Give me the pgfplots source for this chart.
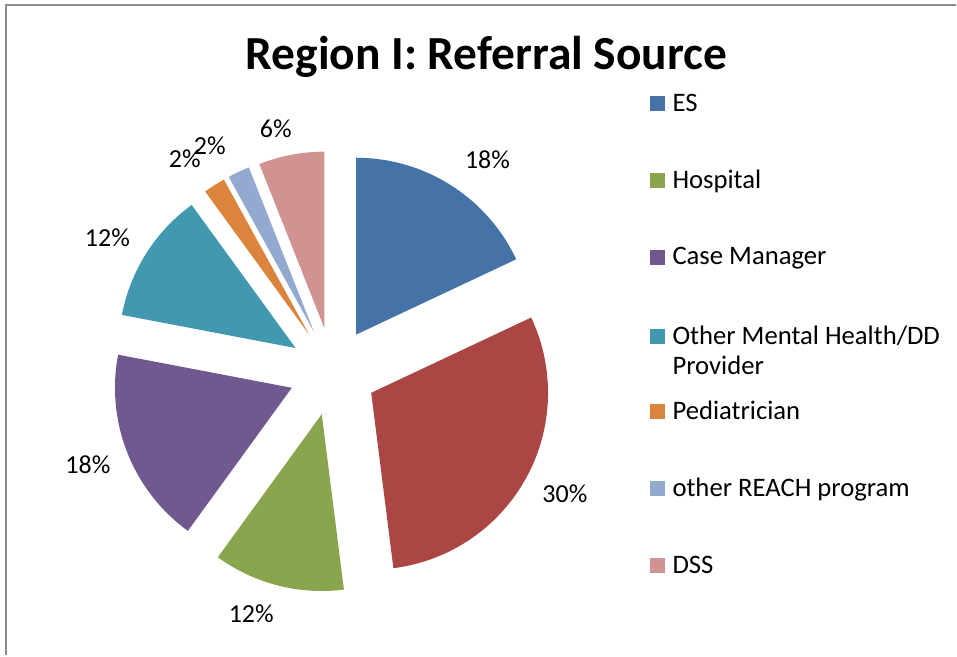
\documentclass[border=0pt]{standalone}
\usepackage{pgfplots}
\pgfplotsset{compat=1.18}
\usepackage{fontspec}
\setmainfont{Carlito}
\definecolor{cES}{HTML}{4572A7}
\definecolor{cRed}{HTML}{AA4643}
\definecolor{cHosp}{HTML}{89A54E}
\definecolor{cCM}{HTML}{71588F}
\definecolor{cTeal}{HTML}{4198AF}
\definecolor{cPed}{HTML}{DB843D}
\definecolor{cREACH}{HTML}{93A9CF}
\definecolor{cDSS}{HTML}{D19392}
\definecolor{frame}{HTML}{8C8C8C}
\tikzset{
  lbl/.style={font=\fontsize{26}{30}\selectfont, anchor=base, inner sep=0pt},
  leg/.style={font=\fontsize{26.7}{30}\selectfont, anchor=base west, inner sep=0pt, align=left}}
\begin{document}
\begin{tikzpicture}
\begin{axis}[x=1pt, y=1pt, xmin=0, xmax=957, ymin=0, ymax=656, y dir=reverse,
  hide axis, scale only axis, clip=false, samples=60]
% background and frame
\addplot[draw=none, fill=white] coordinates {(0,0)(957,0)(957,656)(0,656)} -- cycle;
\addplot[draw=frame, line width=2pt] coordinates {(6.5,656)(6.5,5)(957,5)};
% pie slices: percentages 18,30,12,18,12,2,2,6 -> angles clockwise from top
\addplot[fill=cES, draw=none, domain=0:64.8] ({356.6+177*sin(x)},{334.9-177*cos(x)}) -- (axis cs:356.6,334.9) -- cycle;
\addplot[fill=cRed, draw=none, domain=64.8:172.8] ({371.6+177*sin(x)},{393.2-177*cos(x)}) -- (axis cs:371.6,393.2) -- cycle;
\addplot[fill=cHosp, draw=none, domain=172.8:216] ({322.1+177*sin(x)},{414.6-177*cos(x)}) -- (axis cs:322.1,414.6) -- cycle;
\addplot[fill=cCM, draw=none, domain=216:280.8] ({292.1+177*sin(x)},{388.2-177*cos(x)}) -- (axis cs:292.1,388.2) -- cycle;
\addplot[fill=cTeal, draw=none, domain=280.8:324] ({295.9+177*sin(x)},{348.4-177*cos(x)}) -- (axis cs:295.9,348.4) -- cycle;
\addplot[fill=cPed, draw=none, domain=324:331.2, samples=10] ({309.4+177*sin(x)},{334.9-177*cos(x)}) -- (axis cs:309.4,334.9) -- cycle;
\addplot[fill=cREACH, draw=none, domain=331.2:338.4, samples=10] ({314.3+177*sin(x)},{332.2-177*cos(x)}) -- (axis cs:314.3,332.2) -- cycle;
\addplot[fill=cDSS, draw=none, domain=338.4:360, samples=20] ({324.8+177*sin(x)},{328.8-177*cos(x)}) -- (axis cs:324.8,328.8) -- cycle;
% data labels
\node[lbl] at (axis cs:488,169) {18\%};
\node[lbl] at (axis cs:565.5,503) {30\%};
\node[lbl] at (axis cs:251.5,623) {12\%};
\node[lbl] at (axis cs:88,474) {18\%};
\node[lbl] at (axis cs:107.5,247) {12\%};
\node[lbl] at (axis cs:185,168) {2\%};
\node[lbl] at (axis cs:210,155) {2\%};
\node[lbl] at (axis cs:276,138) {6\%};
% title
\node[font=\bfseries\fontsize{47.5}{54}\selectfont, anchor=base, inner sep=0pt] at (axis cs:487,70) {Region I: Referral Source};
% legend
\addplot[fill=cES, draw=none] coordinates {(651,96.5)(666,96.5)(666,111.5)(651,111.5)} -- cycle;
\addplot[fill=cHosp, draw=none] coordinates {(651,173.5)(666,173.5)(666,188.5)(651,188.5)} -- cycle;
\addplot[fill=cCM, draw=none] coordinates {(651,250)(666,250)(666,265)(651,265)} -- cycle;
\addplot[fill=cTeal, draw=none] coordinates {(651,329)(666,329)(666,344)(651,344)} -- cycle;
\addplot[fill=cPed, draw=none] coordinates {(651,404.5)(666,404.5)(666,419.5)(651,419.5)} -- cycle;
\addplot[fill=cREACH, draw=none] coordinates {(651,481.5)(666,481.5)(666,496.5)(651,496.5)} -- cycle;
\addplot[fill=cDSS, draw=none] coordinates {(651,558.5)(666,558.5)(666,573.5)(651,573.5)} -- cycle;
\node[leg] at (axis cs:673,112) {ES};
\node[leg] at (axis cs:673,189) {Hospital};
\node[leg] at (axis cs:673,265) {Case Manager};
\node[leg] at (axis cs:673,345) {Other Mental Health/DD};
\node[leg] at (axis cs:673,375) {Provider};
\node[leg] at (axis cs:673,420) {Pediatrician};
\node[leg] at (axis cs:673,497) {other REACH program};
\node[leg] at (axis cs:673,574) {DSS};
\end{axis}
\end{tikzpicture}
\end{document}
